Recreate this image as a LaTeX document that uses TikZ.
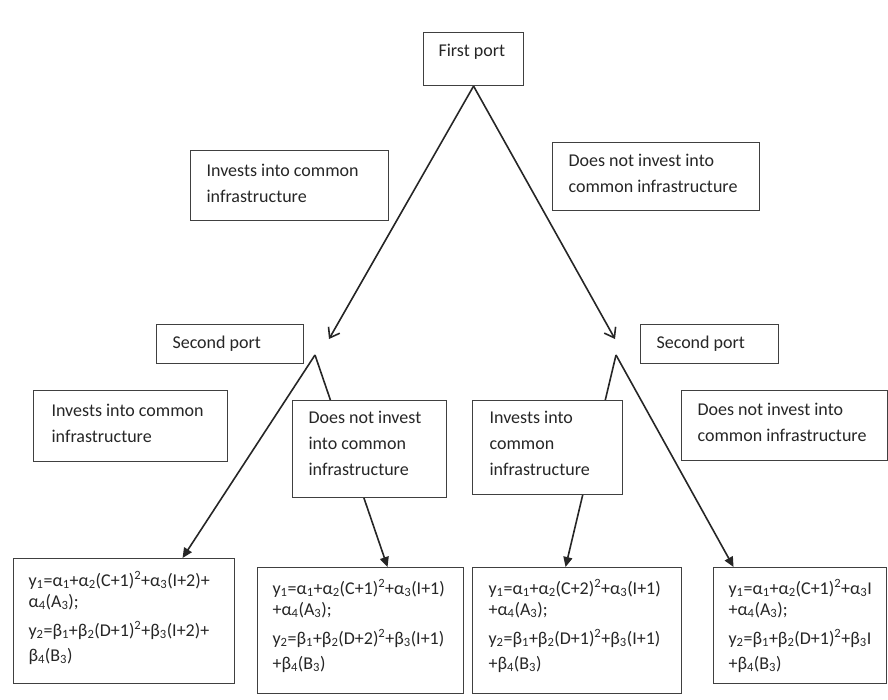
\documentclass[tikz,border=0pt]{standalone}
\usepackage{fontspec}
\setmainfont{Carlito}
\usetikzlibrary{arrows.meta,backgrounds,calc}
\newcommand{\boxtext}[3]{\parbox[t][#2][t]{#1}{\raggedright #3}}
\newcommand{\sbs}[1]{\textsubscript{#1}}
\newcommand{\sps}[1]{\textsuperscript{#1}}

\begin{document}
\begin{tikzpicture}[x=1pt,y=-1pt]

           \tikzstyle{every edge}=[draw, line width=1.6pt, black!85]
           \tikzstyle{every node}=[draw=black!75, line width=1.1pt, fill=white, anchor=north west, text=black!85, font=\fontsize{18}{26}\selectfont]
           \tikzstyle{opentip}=[-{Straight Barb[length=9pt,width=13pt]}]
           \tikzstyle{filltip}=[-{Triangle[length=10pt,width=9pt]}]
           \tikzstyle{formula}=[font=\fontsize{18}{21}\selectfont]

    \useasboundingbox (0,0) rectangle (888,699);

    \node[inner xsep=15pt, inner ysep=12pt] (fp) at (423,32) {\boxtext{70pt}{29pt}{First port}};
    \node[inner xsep=16pt, inner ysep=14pt] (inv1) at (190,150) {\boxtext{166pt}{42pt}{Invests into common\\infrastructure}};
    \node[inner xsep=16pt, inner ysep=12pt] (dn1) at (552,142) {\boxtext{175pt}{44pt}{Does not invest into\\common infrastructure}};

    \node[inner xsep=16pt, inner ysep=11pt] (sp1) at (156,324) {\boxtext{115pt}{17pt}{Second port}};
    \node[inner xsep=16pt, inner ysep=11pt] (sp2) at (640,324) {\boxtext{106pt}{17pt}{Second port}};

    \node[inner xsep=18pt, inner ysep=14pt] (inv2) at (33,390) {\boxtext{158pt}{43pt}{Invests into common\\infrastructure}};
    \node[inner xsep=16pt, inner ysep=11pt] (dn2) at (292,400) {\boxtext{122pt}{75pt}{Does not invest\\into common\\infrastructure}};
    \node[inner xsep=17pt, inner ysep=11pt] (inv3) at (472,400) {\boxtext{116pt}{72pt}{Invests into\\common\\infrastructure}};
    \node[inner xsep=16pt, inner ysep=13pt] (dn3) at (681,390) {\boxtext{174pt}{44pt}{Does not invest into\\common infrastructure}};

    \node[formula, inner xsep=15pt, inner ysep=13pt] (b1) at (13,558) {\boxtext{191pt}{99pt}{%
      y\sbs{1}=α\sbs{1}+α\sbs{2}(C+1)\sps{2}+α\sbs{3}(I+2)+\\
      α\sbs{4}(A\sbs{3});\\[8pt]
      y\sbs{2}=β\sbs{1}+β\sbs{2}(D+1)\sps{2}+β\sbs{3}(I+2)+\\[4pt]
      β\sbs{4}(B\sbs{3})}};
    \node[formula, inner xsep=15pt, inner ysep=12pt] (b2) at (257,567) {\boxtext{176pt}{102pt}{%
      y\sbs{1}=α\sbs{1}+α\sbs{2}(C+1)\sps{2}+α\sbs{3}(I+1)\\
      +α\sbs{4}(A\sbs{3});\\[8pt]
      y\sbs{2}=β\sbs{1}+β\sbs{2}(D+2)\sps{2}+β\sbs{3}(I+1)\\[4pt]
      +β\sbs{4}(B\sbs{3})}};
    \node[formula, inner xsep=16pt, inner ysep=12pt] (b3) at (472,567) {\boxtext{177pt}{102pt}{%
      y\sbs{1}=α\sbs{1}+α\sbs{2}(C+2)\sps{2}+α\sbs{3}(I+1)\\
      +α\sbs{4}(A\sbs{3});\\[8pt]
      y\sbs{2}=β\sbs{1}+β\sbs{2}(D+1)\sps{2}+β\sbs{3}(I+1)\\[4pt]
      +β\sbs{4}(B\sbs{3})}};
    \node[formula, inner xsep=15pt, inner ysep=12pt] (b4) at (713,567) {\boxtext{143pt}{92pt}{%
      y\sbs{1}=α\sbs{1}+α\sbs{2}(C+1)\sps{2}+α\sbs{3}I\\
      +α\sbs{4}(A\sbs{3});\\[8pt]
      y\sbs{2}=β\sbs{1}+β\sbs{2}(D+1)\sps{2}+β\sbs{3}I\\[4pt]
      +β\sbs{4}(B\sbs{3})}};

    \coordinate (tipL) at (329,339);
    \coordinate (tipR) at (615,339);
    \coordinate (forkL) at (315,355);
    \coordinate (forkR) at (616,355);

    \begin{pgfonlayer}{background}
    \path (fp.south) edge [opentip] (tipL);
    \path (fp.south) edge [opentip] (tipR);
    \path (forkL) edge [filltip] ([xshift=58.5pt]b1.north);
    \path (forkL) edge [filltip] ([xshift=27pt]b2.north);
    \path (forkR) edge [filltip] ([xshift=-11.5pt]b3.north);
    \path (forkR) edge [filltip] ([xshift=-66.5pt]b4.north);
    \end{pgfonlayer}

\end{tikzpicture}
\end{document}
